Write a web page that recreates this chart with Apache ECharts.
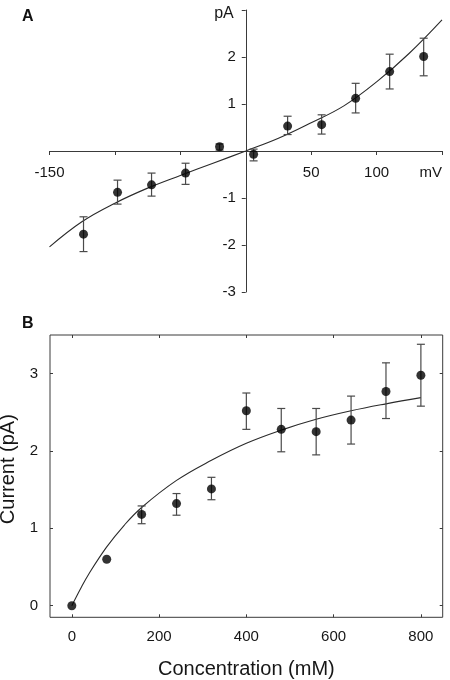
<!DOCTYPE html>
<html>
<head>
<meta charset="utf-8">
<script src="https://cdn.jsdelivr.net/npm/echarts@6/dist/echarts.min.js"></script>
<style>
html,body{margin:0;padding:0;background:#fff;}
#chart{width:450px;height:680px;}
</style>
</head>
<body>
<div id="chart"></div>
<script>
// ---- Panel A: current-voltage relation ----
const aVoltage = [-124, -98, -72, -46, -20, 6, 32, 58, 84, 110, 136];
const aCurrent = [-1.77, -0.88, -0.72, -0.47, 0.09, -0.07, 0.53, 0.56, 1.12, 1.69, 2.01];
const aErrLow  = [-2.14, -1.13, -0.96, -0.71, 0.02, -0.21, 0.35, 0.36, 0.81, 1.32, 1.60];
const aErrHigh = [-1.40, -0.62, -0.47, -0.26, 0.15, 0.04, 0.74, 0.77, 1.44, 2.06, 2.40];
const aFitV = [-150, -125, -100, -75, -50, -25, 0, 25, 50, 75, 100, 125, 150];
const aFitI = [-2.04, -1.50, -1.11, -0.79, -0.52, -0.26, 0, 0.27, 0.60, 0.96, 1.47, 2.08, 2.79];
const aXTickValues = [-150, 50, 100, 150];
const aXTickLabels = ['-150', '50', '100', 'mV'];
const aYTickValues = [2, 1, -1, -2, -3];
const aYTickLabels = ['2', '1', '-1', '-2', '-3'];

// ---- Panel B: concentration dependence ----
const bConc    = [0, 80, 160, 240, 320, 400, 480, 560, 640, 720, 800];
const bCurrent = [0, 0.60, 1.18, 1.32, 1.51, 2.52, 2.28, 2.25, 2.40, 2.77, 2.98];
const bErrLow  = [null, null, 1.06, 1.17, 1.37, 2.28, 1.99, 1.95, 2.09, 2.42, 2.58];
const bErrHigh = [null, null, 1.29, 1.45, 1.66, 2.75, 2.55, 2.55, 2.71, 3.14, 3.38];
const bFitC = [0, 20, 40, 80, 120, 160, 240, 320, 400, 480, 560, 640, 720, 800];
const bFitI = [0, 0.22, 0.42, 0.76, 1.04, 1.27, 1.62, 1.88, 2.10, 2.27, 2.41, 2.52, 2.61, 2.69];
const bXTickValues = [0, 200, 400, 600, 800];
const bYTickValues = [0, 1, 2, 3];

const FONT = 'Liberation Sans';
const TXT = '#161616';
const AX = '#3a3a3a';

// grid geometry of panel A (axes cross at 0,0)
const gA = { left: 49.5, top: 10, width: 392.5, height: 282 };
const aXMin = -150, aXMax = 150, aYMin = -3, aYMax = 3;
const aXAxisOffset = -gA.height * (0 - aYMin) / (aYMax - aYMin);
const aYAxisOffset = -gA.width * (0 - aXMin) / (aXMax - aXMin);

function pairs(xs, ys) { return xs.map((x, i) => [x, ys[i]]); }
function errData(xs, lo, hi) {
  const out = [];
  xs.forEach((x, i) => { if (lo[i] != null && hi[i] != null) out.push([x, lo[i], hi[i]]); });
  return out;
}
function errRender(params, api) {
  const x = api.value(0), lo = api.value(1), hi = api.value(2);
  const pTop = api.coord([x, hi]);
  const pBot = api.coord([x, lo]);
  const hw = 4;
  const st = { stroke: '#4a4a4a', lineWidth: 1.2 };
  return {
    type: 'group',
    children: [
      { type: 'line', shape: { x1: pTop[0], y1: pTop[1], x2: pBot[0], y2: pBot[1] }, style: st },
      { type: 'line', shape: { x1: pTop[0] - hw, y1: pTop[1], x2: pTop[0] + hw, y2: pTop[1] }, style: st },
      { type: 'line', shape: { x1: pBot[0] - hw, y1: pBot[1], x2: pBot[0] + hw, y2: pBot[1] }, style: st }
    ]
  };
}

const chart = echarts.init(document.getElementById('chart'), null, { renderer: 'canvas' });

const option = {
  backgroundColor: '#fff',
  animation: false,
  title: [
    { text: 'A', left: 22, top: 9, padding: 0, textStyle: { fontFamily: FONT, fontSize: 16, fontWeight: 'bold', color: '#111' } },
    { text: 'B', left: 22, top: 316, padding: 0, textStyle: { fontFamily: FONT, fontSize: 16, fontWeight: 'bold', color: '#111' } }
  ],
  grid: [
    { left: gA.left, top: gA.top, width: gA.width, height: gA.height, outerBoundsMode: 'none', containLabel: false },
    { left: 50, top: 335, width: 392.7, height: 282.3, outerBoundsMode: 'none', containLabel: false,
      show: true, borderColor: AX, borderWidth: 1, backgroundColor: 'transparent' }
  ],
  xAxis: [
    {
      gridIndex: 0, type: 'value', min: aXMin, max: aXMax, interval: 50,
      position: 'bottom', offset: aXAxisOffset,
      axisLine: { show: true, onZero: false, lineStyle: { color: AX, width: 1 } },
      axisTick: { show: true, inside: false, length: 4, lineStyle: { color: AX } },
      splitLine: { show: false },
      axisLabel: {
        customValues: aXTickValues,
        formatter: v => aXTickLabels[aXTickValues.indexOf(v)],
        alignMaxLabel: 'right',
        margin: 14, fontFamily: FONT, fontSize: 15, color: TXT
      }
    },
    {
      gridIndex: 1, type: 'value', min: -50, max: 850, position: 'bottom',
      axisLine: { show: false, onZero: false },
      axisTick: { show: true, inside: true, length: 3, customValues: bXTickValues, lineStyle: { color: AX } },
      splitLine: { show: false },
      axisLabel: { customValues: bXTickValues, margin: 12, fontFamily: FONT, fontSize: 15, color: TXT },
      name: 'Concentration (mM)', nameLocation: 'middle', nameGap: 42,
      nameTextStyle: { fontFamily: FONT, fontSize: 20, color: TXT }
    },
    {
      gridIndex: 1, type: 'value', min: -50, max: 850, position: 'top',
      axisLine: { show: false, onZero: false },
      axisTick: { show: true, inside: true, length: 3, customValues: bXTickValues, lineStyle: { color: AX } },
      splitLine: { show: false },
      axisLabel: { show: false }
    }
  ],
  yAxis: [
    {
      gridIndex: 0, type: 'value', min: aYMin, max: aYMax, interval: 1,
      position: 'left', offset: aYAxisOffset,
      axisLine: { show: true, onZero: false, lineStyle: { color: AX, width: 1 } },
      axisTick: { show: true, inside: false, length: 4, lineStyle: { color: AX } },
      splitLine: { show: false },
      axisLabel: {
        customValues: aYTickValues,
        formatter: v => aYTickLabels[aYTickValues.indexOf(v)],
        margin: 10, fontFamily: FONT, fontSize: 15, color: TXT
      },
      name: 'pA', nameLocation: 'end', nameGap: -4,
      nameTextStyle: { fontFamily: FONT, fontSize: 16, color: TXT, align: 'right', verticalAlign: 'middle', padding: [0, 12, 0, 0] }
    },
    {
      gridIndex: 1, type: 'value', min: -0.15, max: 3.5, position: 'left',
      axisLine: { show: false, onZero: false },
      axisTick: { show: true, inside: true, length: 3, customValues: bYTickValues, lineStyle: { color: AX } },
      splitLine: { show: false },
      axisLabel: { customValues: bYTickValues, margin: 12, fontFamily: FONT, fontSize: 15, color: TXT },
      name: 'Current (pA)', nameLocation: 'middle', nameGap: 28,
      nameTextStyle: { fontFamily: FONT, fontSize: 20, color: TXT, padding: [0, 0, 0, 14] }
    },
    {
      gridIndex: 1, type: 'value', min: -0.15, max: 3.5, position: 'right',
      axisLine: { show: false, onZero: false },
      axisTick: { show: true, inside: true, length: 3, customValues: bYTickValues, lineStyle: { color: AX } },
      splitLine: { show: false },
      axisLabel: { show: false }
    }
  ],
  series: [
    {
      type: 'line', xAxisIndex: 0, yAxisIndex: 0, data: pairs(aFitV, aFitI),
      smooth: 0.4, showSymbol: false, symbol: 'none', silent: true,
      lineStyle: { color: '#2a2a2a', width: 1.1 }, z: 2
    },
    {
      type: 'custom', xAxisIndex: 0, yAxisIndex: 0, data: errData(aVoltage, aErrLow, aErrHigh),
      encode: { x: 0, y: [1, 2] }, renderItem: errRender, silent: true, z: 3
    },
    {
      type: 'scatter', xAxisIndex: 0, yAxisIndex: 0, data: pairs(aVoltage, aCurrent),
      symbol: 'circle', symbolSize: 9, itemStyle: { color: '#000' }, z: 4
    },
    {
      type: 'line', xAxisIndex: 1, yAxisIndex: 1, data: pairs(bFitC, bFitI),
      smooth: 0.4, showSymbol: false, symbol: 'none', silent: true,
      lineStyle: { color: '#2a2a2a', width: 1.1 }, z: 2
    },
    {
      type: 'custom', xAxisIndex: 1, yAxisIndex: 1, data: errData(bConc, bErrLow, bErrHigh),
      encode: { x: 0, y: [1, 2] }, renderItem: errRender, silent: true, z: 3
    },
    {
      type: 'scatter', xAxisIndex: 1, yAxisIndex: 1, data: pairs(bConc, bCurrent),
      symbol: 'circle', symbolSize: 9, itemStyle: { color: '#000' }, z: 4
    }
  ]
};
chart.setOption(option);
</script>
</body>
</html>
